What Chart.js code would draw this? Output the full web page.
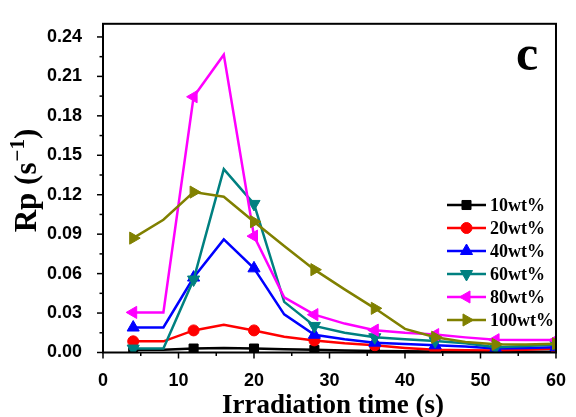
<!DOCTYPE html>
<html>
<head>
<meta charset="utf-8">
<script src="https://cdn.jsdelivr.net/npm/chart.js@4/dist/chart.umd.min.js"></script>
<style>
    html, body { margin: 0; padding: 0; background: #ffffff; }
    #wrap { width: 576px; height: 417px; }
</style>
</head>
<body>
<div id="wrap"><canvas id="rpChart" width="576" height="417"></canvas></div>
<script>
// Irradiation times (s)
const times = [4, 8, 12, 16, 20, 24, 28, 32, 36, 40, 44, 48, 52, 56, 60];

// Rp (s^-1) for each loading
const rp10 = [0.002, 0.002, 0.003, 0.0035, 0.003, 0.0025, 0.002, 0.0015, 0.0012, 0.001, 0.0008, 0.0007, 0.0005, 0.0005, 0.0005];
const rp20 = [0.0085, 0.0085, 0.0168, 0.021, 0.0168, 0.012, 0.0092, 0.007, 0.0055, 0.0035, 0.002, 0.0018, 0.0015, 0.002, 0.003];
const rp40 = [0.019, 0.019, 0.057, 0.086, 0.064, 0.029, 0.0135, 0.010, 0.0075, 0.0065, 0.0055, 0.0045, 0.003, 0.0035, 0.004];
const rp60 = [0.003, 0.003, 0.0555, 0.1395, 0.113, 0.0385, 0.0202, 0.015, 0.0116, 0.010, 0.0087, 0.007, 0.004, 0.005, 0.006];
const rp80 = [0.0305, 0.0305, 0.1945, 0.2265, 0.0885, 0.042, 0.0288, 0.022, 0.017, 0.015, 0.0136, 0.0115, 0.0097, 0.0095, 0.0095];
const rp100 = [0.087, 0.101, 0.122, 0.1185, 0.0995, 0.081, 0.063, 0.048, 0.0336, 0.018, 0.0116, 0.008, 0.0062, 0.006, 0.0067];

const seriesLabels = ['10wt%', '20wt%', '40wt%', '60wt%', '80wt%', '100wt%'];
const seriesValues = [rp10, rp20, rp40, rp60, rp80, rp100];

// Axis ticks
const xTickValues = [0, 10, 20, 30, 40, 50, 60];
const yTickValues = [0, 0.03, 0.06, 0.09, 0.12, 0.15, 0.18, 0.21, 0.24];

// Marker look per series
const seriesColors = ['#000000', '#ff0000', '#0000ff', '#008080', '#ff00ff', '#808000'];
const seriesMarkers = [
    { style: 'rect', rotation: 0, radius: 6.4 },
    { style: 'circle', rotation: 0, radius: 5.5 },
    { style: 'triangle', rotation: 0, radius: 7 },
    { style: 'triangle', rotation: 180, radius: 7 },
    { style: 'triangle', rotation: -90, radius: 7 },
    { style: 'triangle', rotation: 90, radius: 7 }
];

const serifBold = 'bold {size}px "Liberation Serif", "Times New Roman", serif';
function serif(size) { return serifBold.replace('{size}', size); }

function drawMarker(ctx, m, color, x, y) {
    ctx.save();
    ctx.fillStyle = color;
    ctx.strokeStyle = color;
    ctx.lineWidth = 1;
    if (Chart.helpers && Chart.helpers.drawPoint) {
        Chart.helpers.drawPoint(ctx, { pointStyle: m.style, rotation: m.rotation, radius: m.radius, borderWidth: 1 }, x, y);
    } else {
        ctx.beginPath();
        ctx.arc(x, y, m.radius, 0, Math.PI * 2);
        ctx.fill();
    }
    ctx.restore();
}

// Frame, ticks, titles, legend and panel letter
const decorations = {
    id: 'decorations',
    afterDraw(chart) {
        const ctx = chart.ctx;
        const area = chart.chartArea;
        const xs = chart.scales.x;
        const ys = chart.scales.y;

        ctx.save();
        ctx.strokeStyle = '#000000';

        // ticks (major and minor, pointing out)
        ctx.lineWidth = 1.5;
        for (let v = 0; v <= 60; v += 5) {
            const px = xs.getPixelForValue(v);
            const len = v % 10 === 0 ? 6 : 3.5;
            ctx.beginPath();
            ctx.moveTo(px, area.bottom);
            ctx.lineTo(px, area.bottom + len);
            ctx.stroke();
        }
        for (let k = 0; k <= 16; k++) {
            const py = ys.getPixelForValue(k * 0.015);
            const len = k % 2 === 0 ? 6 : 3.5;
            ctx.beginPath();
            ctx.moveTo(area.left, py);
            ctx.lineTo(area.left - len, py);
            ctx.stroke();
        }

        // frame
        ctx.lineWidth = 2;
        ctx.strokeRect(area.left, area.top, area.right - area.left, area.bottom - area.top);

        ctx.fillStyle = '#000000';

        // x axis title
        ctx.font = serif(27);
        ctx.textAlign = 'center';
        ctx.textBaseline = 'alphabetic';
        ctx.fillText('Irradiation time (s)', 333, 413);

        // y axis title with superscript
        ctx.save();
        ctx.translate(36, 181);
        ctx.rotate(-Math.PI / 2);
        ctx.textAlign = 'left';
        const partA = 'Rp (s';
        const partB = '\u22121';
        const partC = ')';
        ctx.font = serif(31);
        const wA = ctx.measureText(partA).width;
        const wC = ctx.measureText(partC).width;
        ctx.font = serif(21);
        const wB = ctx.measureText(partB).width;
        const x0 = -(wA + wB + wC) / 2;
        ctx.font = serif(31);
        ctx.fillText(partA, x0, 0);
        ctx.font = serif(21);
        ctx.fillText(partB, x0 + wA + 1, -12);
        ctx.font = serif(31);
        ctx.fillText(partC, x0 + wA + wB + 1, 0);
        ctx.restore();

        // panel letter
        ctx.font = serif(50);
        ctx.textAlign = 'center';
        ctx.fillText('c', 527, 70);

        // legend
        ctx.textAlign = 'left';
        ctx.textBaseline = 'middle';
        ctx.font = serif(18);
        seriesLabels.forEach((label, i) => {
            const y = 205 + i * 23;
            ctx.strokeStyle = seriesColors[i];
            ctx.lineWidth = 2.5;
            ctx.beginPath();
            ctx.moveTo(447, y);
            ctx.lineTo(486, y);
            ctx.stroke();
            drawMarker(ctx, seriesMarkers[i], seriesColors[i], 466.5, y);
            ctx.fillStyle = '#000000';
            ctx.fillText(label, 490, y + 1);
        });

        ctx.restore();
    }
};

const datasets = seriesValues.map((values, i) => ({
    label: seriesLabels[i],
    data: times.map((t, j) => ({ x: t, y: values[j] })),
    borderColor: seriesColors[i],
    backgroundColor: seriesColors[i],
    borderWidth: 2.5,
    pointStyle: seriesMarkers[i].style,
    pointRotation: seriesMarkers[i].rotation,
    pointRadius: ctx => (ctx.dataIndex % 2 === 0 ? seriesMarkers[i].radius : 0),
    pointBorderWidth: 1,
    pointHoverRadius: 0,
    tension: 0,
    fill: false,
    order: seriesValues.length - i
}));

const tickFont = { family: '"Liberation Sans", Arial, sans-serif', size: 18, weight: 'bold' };

new Chart(document.getElementById('rpChart').getContext('2d'), {
    type: 'line',
    data: { datasets: datasets },
    options: {
        responsive: false,
        animation: false,
        events: [],
        layout: { padding: { top: 12, right: 13, left: 0, bottom: 0 } },
        plugins: {
            legend: { display: false },
            tooltip: { enabled: false }
        },
        scales: {
            x: {
                type: 'linear',
                min: 0,
                max: 60,
                grid: { display: false },
                border: { display: false },
                afterBuildTicks: scale => { scale.ticks = xTickValues.map(v => ({ value: v })); },
                afterFit: scale => { scale.height = 64.5; },
                ticks: {
                    color: '#000000',
                    font: tickFont,
                    padding: 10,
                    maxRotation: 0,
                    callback: v => String(v)
                }
            },
            y: {
                type: 'linear',
                min: 0,
                max: 0.25,
                grid: { display: false },
                border: { display: false },
                afterBuildTicks: scale => { scale.ticks = yTickValues.map(v => ({ value: v })); },
                afterFit: scale => { scale.width = 103; },
                ticks: {
                    color: '#000000',
                    font: tickFont,
                    padding: 13,
                    callback: v => Number(v).toFixed(2)
                }
            }
        }
    },
    plugins: [decorations]
});
</script>
</body>
</html>
